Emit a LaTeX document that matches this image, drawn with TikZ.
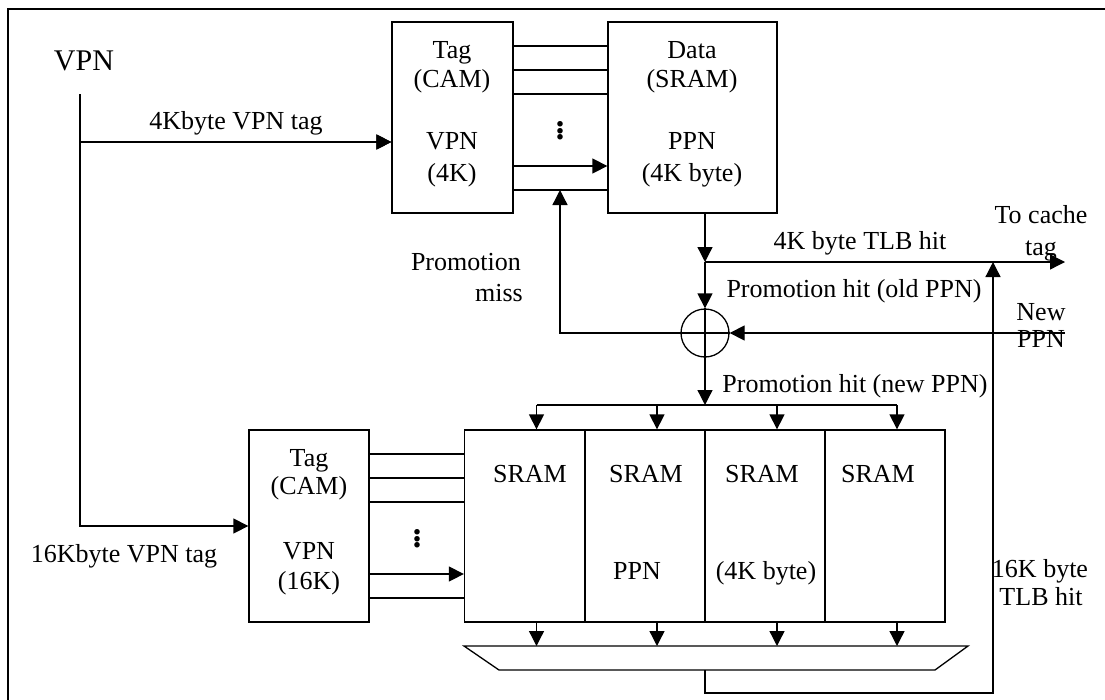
\documentclass[tikz,border=0pt]{standalone}
\usepackage{fontspec}
\setmainfont{Liberation Serif}
\usepackage{tikz}
\usetikzlibrary{arrows.meta,positioning,calc}
\tikzset{
  wire/.style={line width=1.3pt},
  sig/.style={-{Triangle[length=15pt,width=15pt]}, line width=1.3pt},
  cell/.style={draw, line width=1.3pt, inner sep=0pt},
  lbl/.style={inner sep=0pt, text height=18pt, text depth=6pt, align=center},
  dotsym/.style={inner sep=0pt, font=\fontsize{34}{36}\selectfont\bfseries},
}

\begin{document}
\begin{tikzpicture}[x=1pt, y=-1pt, font=\fontsize{26}{28}\selectfont]
    \useasboundingbox (0,0) rectangle (1105,699);
    \clip (0,0) rectangle (1105,699);
    % --- frame ---
    \draw[line width=2pt] (8,9) rectangle (1120,720);

    % --- 4K byte TLB ---
    \node[cell, minimum width=121pt, minimum height=191pt] (tag4) at (452.5,117.5) {};
    \node[cell, minimum width=169pt, minimum height=191pt] (data4) at (692.5,117.5) {};
    \node[lbl] (tag4a) at (452,52) {Tag};
    \node[lbl] (tag4b) at (452,81) {(CAM)};
    \node[lbl] (tag4c) at (452,143) {VPN};
    \node[lbl] (tag4d) at (452,175) {(4K)};
    \node[lbl] (data4a) at (692,52) {Data};
    \node[lbl] (data4b) at (692,81) {(SRAM)};
    \node[lbl] (data4c) at (692,143) {PPN};
    \node[lbl] (data4d) at (692,175) {(4K byte)};
    \foreach \y in {46,70,94,190}
      \draw[wire] (tag4.east |- 0,\y) -- (data4.west |- 0,\y);
    \draw[sig] (tag4.east |- 0,166) -- (data4.west |- 0,166);
    \node[dotsym] (dots4) at (560,128) {$\vdots$};

    % --- VPN input ---
    \node[inner sep=0pt, font=\fontsize{30}{32}\selectfont] (vpn) at (84,61) {VPN};
    \coordinate (vtop) at (80,94);
    \coordinate (vsplit) at (80,142);
    \draw[sig] (vtop) |- (tag4.west |- vsplit);
    \draw[sig] (vsplit) -- (vsplit -| tag4.west);
    \node[lbl] (tag4lbl) at (236,123) {4Kbyte VPN tag};

    % --- promotion path ---
    \node[draw, circle, line width=1.3pt, minimum size=48pt, inner sep=0pt] (xor) at (705,333) {};
    \draw[wire] (xor.north) -- (xor.south) (xor.west) -- (xor.east);
    \coordinate (hit4) at (705,262);
    \coordinate (tocache) at (1065,262);
    \coordinate (hit16) at (993,262);
    \coordinate (newppn) at (1065,333);
    \coordinate (miss) at (560,190);
    \coordinate (dist) at (705,405);
    \draw[sig] (data4.south -| hit4) -- (hit4);
    \draw[sig] (hit4) -- (tocache);
    \draw[sig] (hit4) -- (xor.north);
    \draw[sig] (newppn) -- (xor.east);
    \draw[sig] (xor.west) -| (miss);
    \draw[sig] (xor.south) -- (dist);
    \node[lbl] (hit4lbl) at (860,243) {4K byte TLB hit};
    \node[inner sep=0pt, anchor=base] (cachelbla) at (1041,223) {To cache};
    \node[inner sep=0pt, anchor=base] (cachelblb) at (1041,255) {tag};
    \node[lbl] (oldlbl) at (854,291) {Promotion hit (old PPN)};
    \node[inner sep=0pt, anchor=base east] (misslbla) at (521,270) {Promotion};
    \node[inner sep=0pt, anchor=base east] (misslblb) at (523,301) {miss};
    \node[inner sep=0pt, anchor=base] (newlbla) at (1041,320) {New};
    \node[inner sep=0pt, anchor=base] (newlblb) at (1041,347) {PPN};
    \node[lbl] (newhitlbl) at (855,386) {Promotion hit (new PPN)};

    % --- 16K byte TLB ---
    \node[cell, minimum width=120pt, minimum height=192pt] (tag16) at (309,526) {};
    \node[lbl] (tag16a) at (309,460) {Tag};
    \node[lbl] (tag16b) at (309,488) {(CAM)};
    \node[lbl] (tag16c) at (309,553) {VPN};
    \node[lbl] (tag16d) at (309,583) {(16K)};
    \draw[sig] (vtop) |- (tag16.west);
    \node[lbl] (tag16lbl) at (124,556) {16Kbyte VPN tag};
    \foreach \i/\x in {1/524.5,2/645,3/765,4/885}
      \node[cell, minimum width=120pt, minimum height=192pt] (sram\i) at (\x,526) {};
    \foreach \i/\x in {1/530,2/646,3/762,4/878}
      \node[lbl] (sramlbl\i) at (\x,476) {SRAM};
    \node[lbl] (ppnlbl) at (637,573) {PPN};
    \node[lbl] (sizelbl) at (766,573) {(4K byte)};
    \foreach \y in {454,478,502,598}
      \draw[wire] (tag16.east |- 0,\y) -- (sram1.west |- 0,\y);
    \draw[sig] (tag16.east |- 0,574) -- (sram1.west |- 0,574);
    \node[dotsym] (dots16) at (417,536) {$\vdots$};

    % --- write ports and mux ---
    \draw[wire] ([xshift=12pt]sram1.north |- dist) -- ([xshift=12pt]sram4.north |- dist);
    \draw[wire] (464,646) coordinate (muxtl) -- (968,646) -- (935,670)
      -- (499,670) -- cycle;
    \coordinate (muxout) at (705,670);
    \foreach \i in {1,...,4} {
      \draw[sig] ([xshift=12pt]sram\i.north |- dist) -- ([xshift=12pt]sram\i.north);
      \draw[sig] ([xshift=12pt]sram\i.south) -- ([xshift=12pt]sram\i.south |- muxtl);
    }
    \draw[sig] (muxout) -- ++(0,23) -| (hit16);
    \node[inner sep=0pt, anchor=base] (hit16lbla) at (1040,577) {16K byte};
    \node[inner sep=0pt, anchor=base] (hit16lblb) at (1041,605) {TLB hit};
  \end{tikzpicture}
\end{document}
